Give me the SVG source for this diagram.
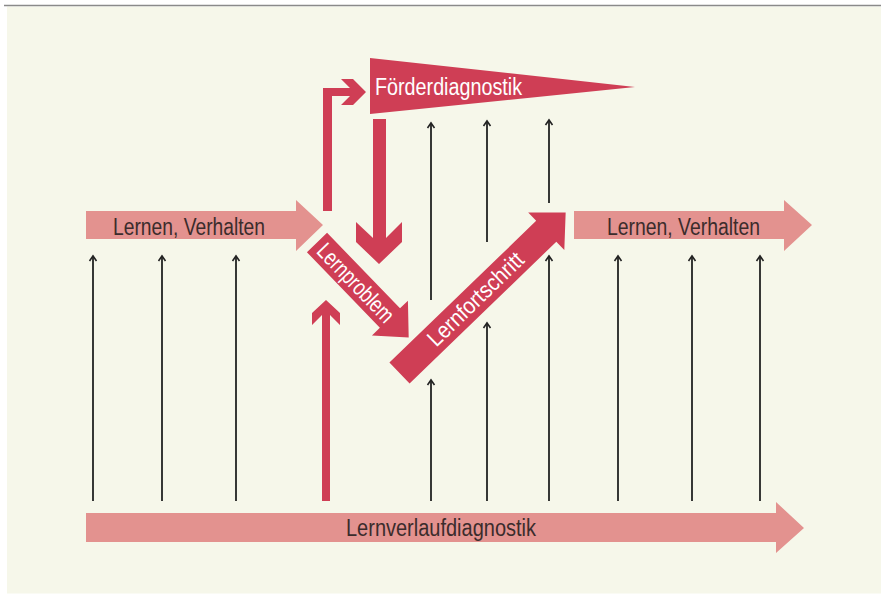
<svg xmlns="http://www.w3.org/2000/svg" width="881" height="594" viewBox="0 0 881 594">
  <style>
    .pink { fill: #e3928f; }
    .red { fill: #cf3e55; }
    .lbl { font-family: "Liberation Sans", Arial, sans-serif; font-size: 23px; text-anchor: middle; }
    .dark { fill: #3b2c2c; }
    .white { fill: #ffffff; }
    .thinA { stroke: #222222; stroke-width: 1.8; fill: none; marker-end: url(#ah); }
  </style>
  <defs>
    <marker id="ah" markerUnits="userSpaceOnUse" orient="auto" refX="0" refY="0" markerWidth="12" markerHeight="12" overflow="visible">
      <path d="M-5,-3.5 L0,0 L-5,3.5" fill="none" stroke="#222222" stroke-width="1.6"/>
    </marker>
  </defs>
  <rect x="0" y="0" width="881" height="594" fill="#ffffff"/>
  <rect x="7" y="6.5" width="874" height="587" fill="#f6f7ea"/>
  <line x1="4" y1="5.5" x2="881" y2="5.5" stroke="#8a8a8a" stroke-width="1.6"/>

  <g id="connectors">
    <line class="thinA" x1="93" y1="501" x2="93" y2="256"/>
    <line class="thinA" x1="162" y1="501" x2="162" y2="256"/>
    <line class="thinA" x1="236" y1="501" x2="236" y2="256"/>
    <line class="thinA" x1="618" y1="501" x2="618" y2="256"/>
    <line class="thinA" x1="692" y1="501" x2="692" y2="256"/>
    <line class="thinA" x1="760" y1="501" x2="760" y2="256"/>
    <line class="thinA" x1="431" y1="501" x2="431" y2="380"/>
    <line class="thinA" x1="487" y1="501" x2="487" y2="323"/>
    <line class="thinA" x1="549" y1="501" x2="549" y2="256"/>
    <line class="thinA" x1="431" y1="300" x2="431" y2="123"/>
    <line class="thinA" x1="487" y1="242" x2="487" y2="121"/>
    <line class="thinA" x1="549" y1="203" x2="549" y2="120"/>
    <path id="bent-arrow" class="red" d="M323,211 V88 H350 L341,79 H353 L366,92 L353,105 H341 L350,96 H332 V211 Z"/>
    <path id="down-arrow" class="red" d="M373,119 H386 V238 L402,222 V242 L379,264 L356,242 V222 L373,238 Z"/>
    <path id="up-arrow" class="red" d="M322,501 V315 L312,325 V313 L326,300 L340,313 V325 L330,315 V501 Z"/>
  </g>

  <g id="lernen-links">
    <path class="pink" d="M86,211 H296 V200 L323,225 L296,251 V239 H86 Z"/>
    <text class="lbl dark" x="189" y="235" textLength="152" lengthAdjust="spacingAndGlyphs">Lernen, Verhalten</text>
  </g>

  <g id="lernen-rechts">
    <path class="pink" d="M574,211 H784 V200 L812,225 L784,251 V239 H574 Z"/>
    <text class="lbl dark" x="683.5" y="235" textLength="153" lengthAdjust="spacingAndGlyphs">Lernen, Verhalten</text>
  </g>

  <g id="lernverlaufdiagnostik">
    <path class="pink" d="M86,513 H776 V502 L804,528 L776,553 V542 H86 Z"/>
    <text class="lbl dark" x="441" y="536" textLength="190" lengthAdjust="spacingAndGlyphs">Lernverlaufdiagnostik</text>
  </g>

  <g id="foerderdiagnostik">
    <polygon class="red" points="370,58 635,87 370,114"/>
    <text class="lbl white" x="448.5" y="95" textLength="147" lengthAdjust="spacingAndGlyphs">Förderdiagnostik</text>
  </g>

  <g id="lernproblem" transform="translate(317,242.5) rotate(46)">
    <path class="red" d="M0,-14 H105 V-25 L132,0 L105,25 V14 H0 Z"/>
    <text class="lbl white" x="56" y="8" font-size="22" textLength="100" lengthAdjust="spacingAndGlyphs">Lernproblem</text>
  </g>

  <g id="lernfortschritt" transform="translate(399.5,373) rotate(-44)">
    <path class="red" d="M0,-14.5 H204 V-26 L231,0 L204,26 V14.5 H0 Z"/>
    <text class="lbl white" x="106" y="7.5" font-size="22" textLength="124" lengthAdjust="spacingAndGlyphs">Lernfortschritt</text>
  </g>
</svg>
